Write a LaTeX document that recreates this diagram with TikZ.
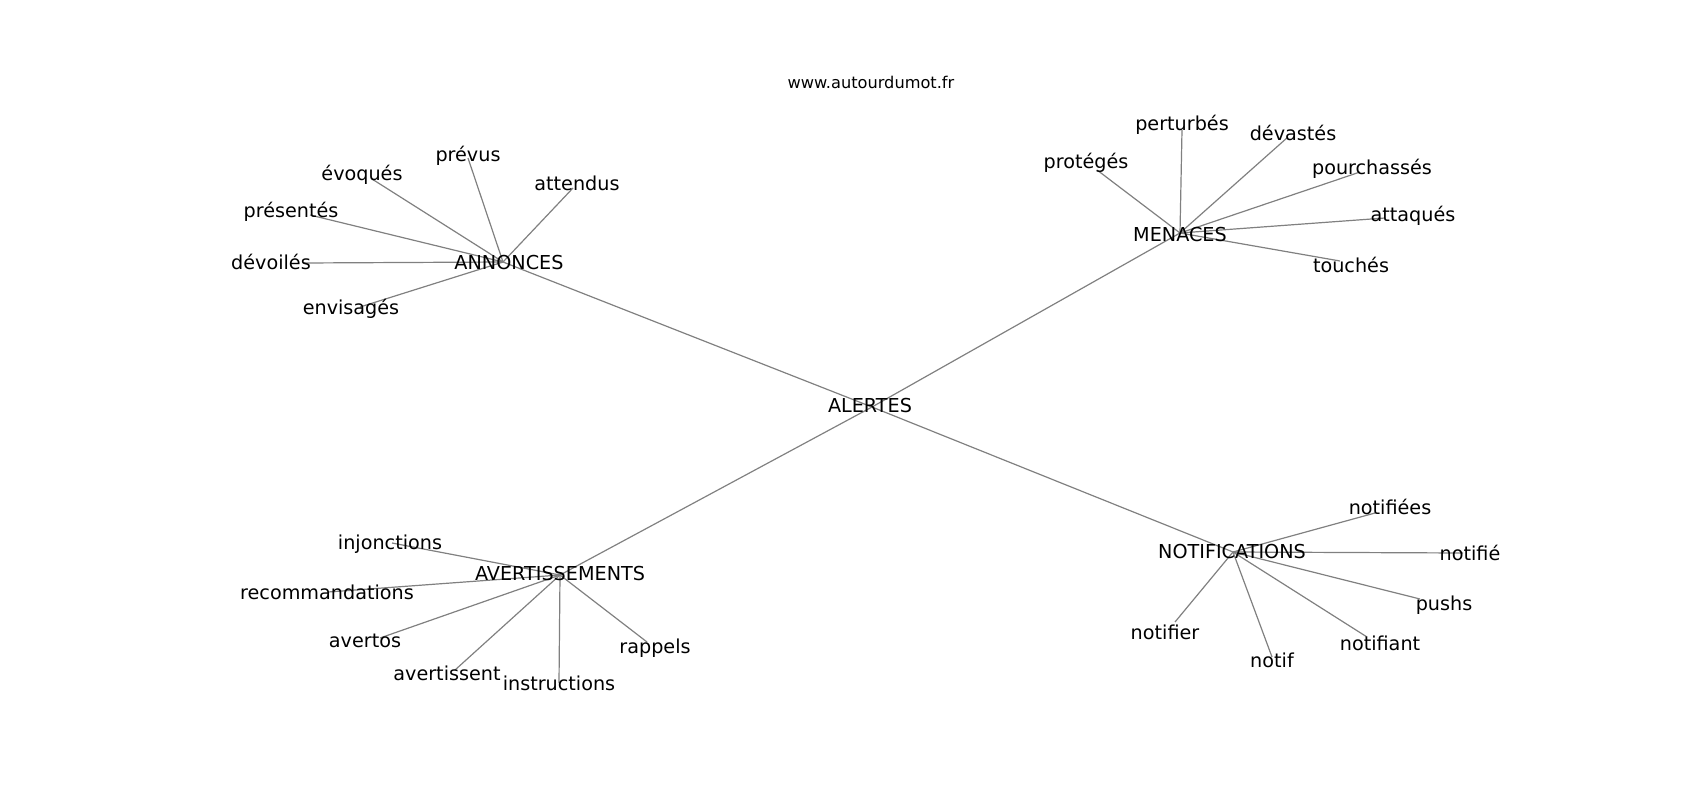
\documentclass[tikz,border=0pt]{standalone}
\usepackage{fontspec}
\setmainfont{DejaVu Sans}
\begin{document}
\begin{tikzpicture}[x=1pt,y=-1pt,
  word/.style={inner sep=0pt,yshift=-3pt,text height=14pt,text depth=4.6pt,font=\fontsize{19.2}{23}\selectfont},
  edge/.style={draw=black!50,line width=1.2pt}]
\useasboundingbox (0,0) rectangle (1700,800);
\coordinate (alertes) at (872,407);
\coordinate (annonces) at (503,262);
\coordinate (menaces) at (1180,233);
\coordinate (avertissements) at (560,575);
\coordinate (notifications) at (1233,552);
\coordinate (prevus) at (468,158);
\coordinate (evoques) at (372,179);
\coordinate (attendus) at (573,188);
\coordinate (presentes) at (310,215);
\coordinate (devoiles) at (303,263);
\coordinate (envisages) at (360,307);
\coordinate (perturbes) at (1182,130);
\coordinate (devastes) at (1288,137);
\coordinate (proteges) at (1097,170);
\coordinate (pourchasses) at (1360,172);
\coordinate (attaques) at (1385,218);
\coordinate (touches) at (1340,261);
\coordinate (injonctions) at (392,543);
\coordinate (recommandations) at (328,592);
\coordinate (avertos) at (380,638);
\coordinate (avertissent) at (455,670);
\coordinate (instructions) at (559,683);
\coordinate (rappels) at (647,642);
\coordinate (notifiees) at (1375,513);
\coordinate (notifie) at (1463,553);
\coordinate (pushs) at (1420,599);
\coordinate (notifiant) at (1367,637);
\coordinate (notif) at (1272,657);
\coordinate (notifier) at (1175,622);
\foreach \hub in {annonces,menaces,avertissements,notifications}
  \draw[edge] (alertes) -- (\hub);
\foreach \leaf in {prevus,evoques,attendus,presentes,devoiles,envisages}
  \draw[edge] (annonces) -- (\leaf);
\foreach \leaf in {perturbes,devastes,proteges,pourchasses,attaques,touches}
  \draw[edge] (menaces) -- (\leaf);
\foreach \leaf in {injonctions,recommandations,avertos,avertissent,instructions,rappels}
  \draw[edge] (avertissements) -- (\leaf);
\foreach \leaf in {notifiees,notifie,pushs,notifiant,notif,notifier}
  \draw[edge] (notifications) -- (\leaf);
\node[inner sep=0pt,font=\fontsize{16.2}{19}\selectfont] (site) at (871,82) {www.autourdumot.fr};
\node[word] (t-alertes) at (870,405) {ALERTES};
\node[word] (t-annonces) at (509,262) {ANNONCES};
\node[word] (t-menaces) at (1180,234) {MENACES};
\node[word] (t-avertissements) at (560,573) {AVERTISSEMENTS};
\node[word] (t-notifications) at (1232,551) {NOTIFICATIONS};
\node[word] (t-prevus) at (468,154) {prévus};
\node[word] (t-evoques) at (362,173) {évoqués};
\node[word] (t-attendus) at (577,183) {attendus};
\node[word] (t-presentes) at (291,210) {présentés};
\node[word] (t-devoiles) at (271,262) {dévoilés};
\node[word] (t-envisages) at (351,307) {envisagés};
\node[word] (t-perturbes) at (1182,123) {perturbés};
\node[word] (t-devastes) at (1293,133) {dévastés};
\node[word] (t-proteges) at (1086,161) {protégés};
\node[word] (t-pourchasses) at (1372,167) {pourchassés};
\node[word] (t-attaques) at (1413,214) {attaqués};
\node[word] (t-touches) at (1351,265) {touchés};
\node[word] (t-injonctions) at (390,542) {injonctions};
\node[word] (t-recommandations) at (327,592) {recommandations};
\node[word] (t-avertos) at (365,640) {avertos};
\node[word] (t-avertissent) at (447,673) {avertissent};
\node[word] (t-instructions) at (559,683) {instructions};
\node[word] (t-rappels) at (655,646) {rappels};
\node[word] (t-notifiees) at (1390,507) {notifiées};
\node[word] (t-notifie) at (1470,553) {notifié};
\node[word] (t-pushs) at (1444,603) {pushs};
\node[word] (t-notifiant) at (1380,643) {notifiant};
\node[word] (t-notif) at (1272,660) {notif};
\node[word] (t-notifier) at (1165,632) {notifier};
\end{tikzpicture}
\end{document}
